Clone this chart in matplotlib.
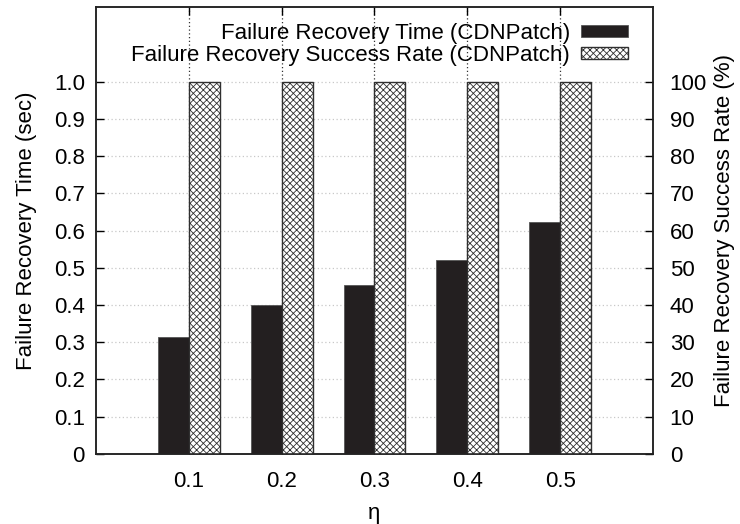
import numpy as np
import matplotlib
matplotlib.use("Agg")
import matplotlib.pyplot as plt
from matplotlib.patches import Patch

# recovery experiment results per eta value
eta_labels = ["0.1", "0.2", "0.3", "0.4", "0.5"]
recovery_time = [0.313, 0.401, 0.453, 0.520, 0.624]   # seconds
success_rate = [100, 100, 100, 100, 100]              # percent

plt.rcParams["font.family"] = ["Liberation Sans", "DejaVu Sans"]
plt.rcParams["font.size"] = 16
plt.rcParams["hatch.linewidth"] = 0.6

fig = plt.figure(figsize=(7.4, 5.24), dpi=100)
ax = fig.add_axes([0.1297, 0.1336, 0.7527, 0.853])
ax2 = ax.twinx()

x = np.arange(1, len(eta_labels) + 1)
w = 1 / 3

# dotted grid behind the bars
for yv in np.arange(0.1, 1.01, 0.1):
    ax.axhline(yv, color="#c8c8c8", lw=0.9, ls=(0, (1, 2)), zorder=0)
for xv in x:
    ax.axvline(xv, color="#333333", lw=0.9, ls=(0, (1, 2)), zorder=0)

ax.bar(x - w / 2, recovery_time, width=w, color="#231f20",
       edgecolor="#555555", lw=0.6, zorder=2)
ax2.bar(x + w / 2, success_rate, width=w, color="white",
        edgecolor="#303030", hatch="xxxxx", lw=1.0, zorder=2)

ax.set_xlim(0, 6)
ax.set_ylim(0, 1.2)
ax2.set_ylim(0, 120)
ax.set_xticks(x)
ax.set_xticklabels(eta_labels)
ax.set_yticks(np.arange(0, 1.01, 0.1))
ax.set_yticklabels(["0"] + [f"{v:.1f}" for v in np.arange(0.1, 1.01, 0.1)])
ax2.set_yticks(np.arange(0, 101, 10))

ax.tick_params(axis="x", direction="in", top=True, length=6, width=1, pad=12)
ax.tick_params(axis="y", direction="in", length=6, width=1, pad=8)
ax2.tick_params(axis="y", direction="in", length=6, width=1, pad=12)
for a in (ax, ax2):
    for s in a.spines.values():
        s.set_linewidth(1.1)
        s.set_color("#222222")

ax.set_xlabel("η", labelpad=8)
ax.set_ylabel("Failure Recovery Time (sec)", labelpad=12)
ax2.set_ylabel("Failure Recovery Success Rate (%)", labelpad=5)

handles = [Patch(facecolor="#231f20", edgecolor="#555555", lw=0.6),
           Patch(facecolor="white", edgecolor="#303030", hatch="xxxxx", lw=1.0)]
leg = ax2.legend(handles, ["Failure Recovery Time (CDNPatch)",
                           "Failure Recovery Success Rate (CDNPatch)"],
                 loc="upper right", bbox_to_anchor=(0.983, 1.0), frameon=False,
                 markerfirst=False, handlelength=2.1, handleheight=0.45,
                 handletextpad=0.5, labelspacing=0.05, borderaxespad=0.3,
                 fontsize=16)

fig.savefig("out.png", dpi=100)
